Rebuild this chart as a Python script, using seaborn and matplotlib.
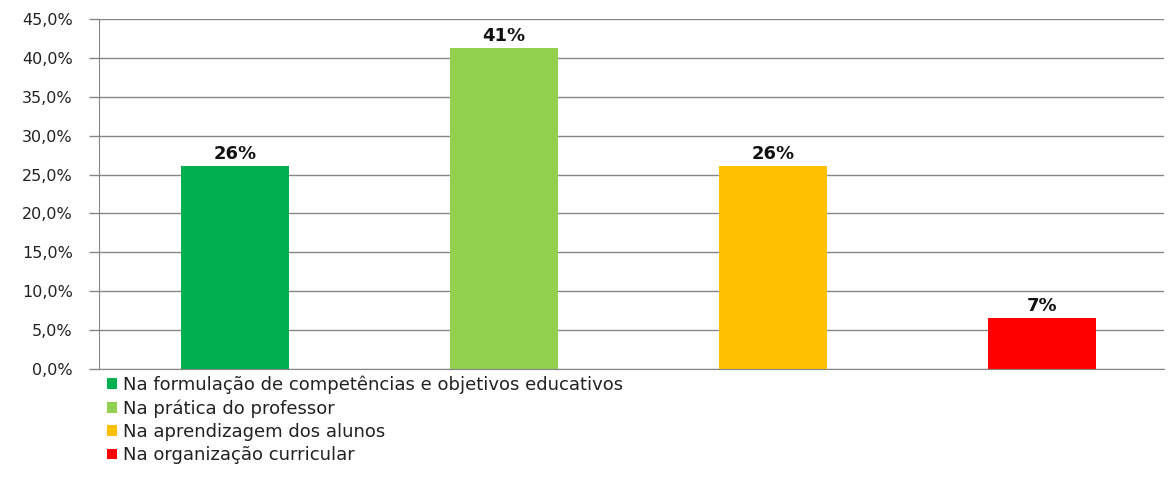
import matplotlib
matplotlib.use("Agg")
import matplotlib.pyplot as plt
import seaborn as sns
import pandas as pd
from matplotlib.ticker import FuncFormatter
from matplotlib.patches import Patch

categories = [
    "Na formulação de competências e objetivos educativos",
    "Na prática do professor",
    "Na aprendizagem dos alunos",
    "Na organização curricular",
]
values = [26.1, 41.3, 26.1, 6.5]
labels = ["26%", "41%", "26%", "7%"]
colors = ["#00B050", "#92D050", "#FFC000", "#FF0000"]
yticks = [0, 5, 10, 15, 20, 25, 30, 35, 40, 45]

sns.set_style("white")
plt.rcParams["font.family"] = ["DejaVu Sans"]

df = pd.DataFrame({"cat": categories, "val": values})

fig = plt.figure(figsize=(11.68, 4.86), dpi=100)
ax = fig.add_axes([0.0848, 0.2407, 0.9122, 0.7202])

sns.barplot(data=df, x="cat", y="val", hue="cat", palette=colors,
            width=0.401, dodge=False, ax=ax, legend=False, saturation=1,
            linewidth=0, edgecolor="none")

ax.set_ylim(0, 45)
ax.set_xlim(-0.5056, 3.457)
ax.set_yticks(yticks)
ax.yaxis.set_major_formatter(FuncFormatter(lambda v, p: f"{v:.1f}".replace(".", ",") + "%"))
ax.tick_params(axis="y", labelsize=11.5, length=7, width=1, direction="out",
               left=True, pad=12, colors="#868686", labelcolor="#222222")
ax.set_xticks([])
ax.set_xlabel("")
ax.set_ylabel("")
ax.grid(axis="y", color="#868686", linewidth=1)
ax.set_axisbelow(True)
for s in ["top", "right"]:
    ax.spines[s].set_visible(False)
ax.spines["left"].set_color("#868686")
ax.spines["bottom"].set_color("#868686")

for i, (v, lab) in enumerate(zip(values, labels)):
    ax.text(i, v + 0.4, lab, ha="center", va="bottom", fontsize=13,
            fontweight="bold", color="#111111")

handles = [Patch(facecolor=c, edgecolor="none") for c in colors]
leg = fig.legend(handles, categories, loc="upper left", bbox_to_anchor=(0.092, 0.228),
                 frameon=False, fontsize=13, handlelength=0.55, handleheight=0.55,
                 handletextpad=0.3, labelspacing=0.3, borderaxespad=0, borderpad=0)
for t in leg.get_texts():
    t.set_color("#222222")

fig.savefig("out.png", dpi=100)
